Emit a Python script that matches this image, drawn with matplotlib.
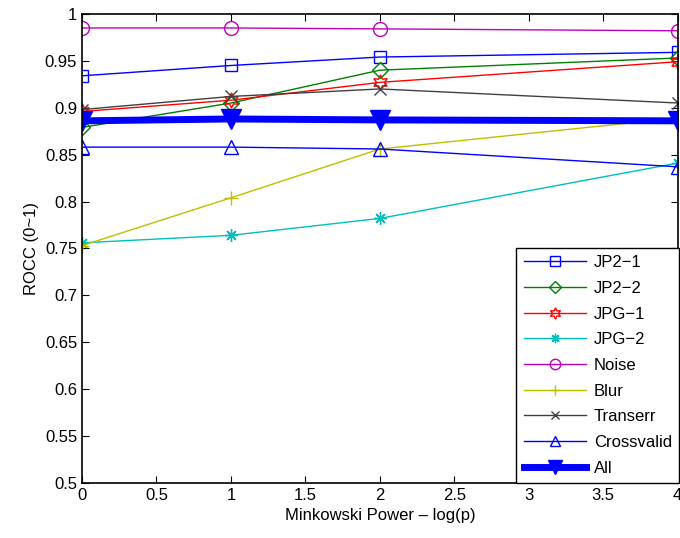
import matplotlib
matplotlib.use('Agg')
from matplotlib import pyplot as plt
from matplotlib.ticker import FormatStrFormatter, MultipleLocator

plt.rcParams['font.family'] = ['Liberation Sans', 'DejaVu Sans']

# Minkowski power, log(p)
x = [0, 1, 2, 4]

# ROCC per distortion type
jp2_1 = [0.934, 0.945, 0.954, 0.959]
jp2_2 = [0.879, 0.905, 0.940, 0.953]
jpg_1 = [0.896, 0.908, 0.927, 0.949]
jpg_2 = [0.756, 0.764, 0.782, 0.841]
noise = [0.985, 0.985, 0.984, 0.982]
blur = [0.753, 0.804, 0.856, 0.889]
transerr = [0.898, 0.912, 0.920, 0.905]
crossvalid = [0.858, 0.858, 0.856, 0.837]
all_ = [0.886, 0.888, 0.887, 0.886]

labels = ['JP2\u22121', 'JP2\u22122', 'JPG\u22121', 'JPG\u22122', 'Noise', 'Blur',
          'Transerr', 'Crossvalid', 'All']

fig = plt.figure(figsize=(6.8, 5.38), dpi=100)
ax = fig.add_axes([0.1206, 0.1022, 0.876, 0.872])

ax.plot(x, jp2_1, color='b', marker='s', mfc='none', ms=9, lw=1, label=labels[0])
ax.plot(x, jp2_2, color=(0, 0.5, 0), marker='D', mfc='none', ms=8, lw=1, label=labels[1])
ax.plot(x, jpg_1, color='r', marker=(6, 1, 0), mfc='none', ms=11, lw=1, label=labels[2])
ax.plot(x, jpg_2, color=(0, 0.75, 0.75), marker=(8, 2, 0), ms=9, lw=1, label=labels[3])
ax.plot(x, noise, color=(0.75, 0, 0.75), marker='o', mfc='none', ms=10, lw=1, label=labels[4])
ax.plot(x, blur, color=(0.75, 0.75, 0), marker='+', ms=10, lw=1, label=labels[5])
ax.plot(x, transerr, color=(0.25, 0.25, 0.25), marker='x', ms=8, lw=1, label=labels[6])
ax.plot(x, crossvalid, color='b', marker='^', mfc='none', ms=10, lw=1, label=labels[7])
ax.plot(x, all_, color='b', marker='v', ms=14, lw=5, label=labels[8])

ax.set_xlim(0, 4)
ax.set_ylim(0.5, 1)
ax.xaxis.set_major_locator(MultipleLocator(0.5))
ax.yaxis.set_major_locator(MultipleLocator(0.05))
ax.xaxis.set_major_formatter(FormatStrFormatter('%g'))
ax.yaxis.set_major_formatter(FormatStrFormatter('%g'))
ax.tick_params(direction='in', top=True, right=True, labelsize=12, length=5, width=0.8)
for s in ax.spines.values():
    s.set_linewidth(1.2)

ax.set_xlabel('Minkowski Power \u2013 log(p)', fontsize=12)
ax.set_ylabel('ROCC (0~1)', fontsize=12)

leg = ax.legend(loc='lower right', fontsize=12, handlelength=3.7, labelspacing=0.64,
                handletextpad=0.5, markerscale=0.75, borderpad=0.45,
                borderaxespad=0.0, fancybox=False, framealpha=1, edgecolor='black',
                bbox_to_anchor=(1.003, 0.0))
leg.get_frame().set_linewidth(1.0)

fig.savefig('out.png', dpi=100)
